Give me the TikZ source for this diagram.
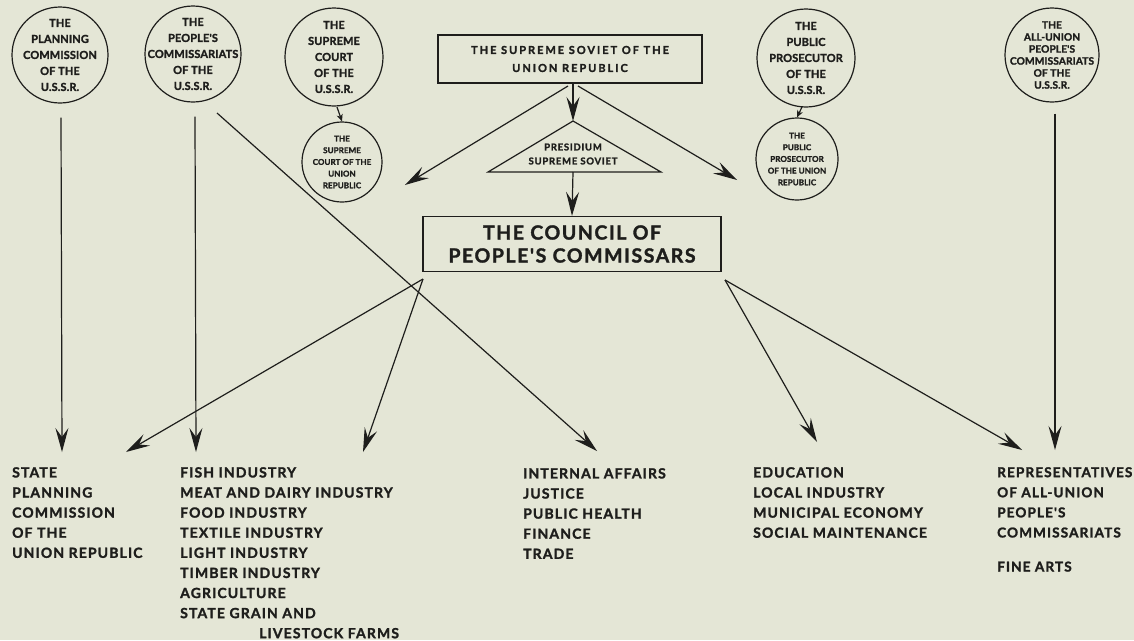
\documentclass[tikz,border=0pt]{standalone}
\usepackage{fontspec}
\newfontfamily\chartfont[LetterSpace=8,BoldFeatures={FakeBold=1.6}]{Lato}
\newfontfamily\ringfont[LetterSpace=1,BoldFeatures={FakeBold=1.6}]{Lato}
\newfontfamily\widefont[LetterSpace=18,BoldFeatures={FakeBold=1.6}]{Lato}
\usetikzlibrary{arrows.meta,positioning}
\definecolor{paper}{RGB}{228,230,214}
\definecolor{ink}{RGB}{30,30,28}
\tikzset{
  ring/.style={circle,draw=ink,line width=1.2pt,minimum size=#1,inner sep=0pt},
  ringtext/.style={align=center,text=ink,font=\ringfont\bfseries\fontsize{11}{16}\selectfont},
  smallringtext/.style={align=center,text=ink,font=\ringfont\bfseries\fontsize{8}{11.7}\selectfont},
  listtext/.style={align=left,text=ink,inner sep=0pt,anchor=north west,font=\chartfont\bfseries\fontsize{14}{20.1}\selectfont},
  big/.style={-{Stealth[length=24pt,width=13pt,inset=9pt]},draw=ink,line width=1.2pt},
  small/.style={-{Stealth[length=7pt,width=6pt,inset=2pt]},draw=ink,line width=1.2pt}
}
\begin{document}
\begin{tikzpicture}[x=1pt,y=-1pt]
\fill[paper] (0,0) rectangle (1134,640);
\useasboundingbox (0,0) rectangle (1134,640);

\node[ring=96pt] (PC) at (60,55) {};
\node[ringtext] at (PC) {THE\\PLANNING\\COMMISSION\\OF THE\\U.S.S.R.};
\node[ring=96pt] (NK) at (193,54) {};
\node[ringtext] at (NK) {THE\\PEOPLE'S\\COMMISSARIATS\\OF THE\\U.S.S.R.};
\node[ring=98pt] (SC) at (334,57) {};
\node[ringtext] at (SC) {THE\\SUPREME\\COURT\\OF THE\\U.S.S.R.};
\node[ring=80pt] (SCR) at (342,162) {};
\node[smallringtext] at (SCR) {THE\\SUPREME\\COURT OF THE\\UNION\\REPUBLIC};
\node[ring=98pt] (PP) at (806,58) {};
\node[ringtext] at (PP) {THE\\PUBLIC\\PROSECUTOR\\OF THE\\U.S.S.R.};
\node[ring=82pt] (PPR) at (797,159) {};
\node[smallringtext] at (PPR) {THE\\PUBLIC\\PROSECUTOR\\OF THE UNION\\REPUBLIC};
\node[ring=94pt] (AU) at (1052,55) {};
\node[smallringtext,font=\ringfont\bfseries\fontsize{10.2}{12}\selectfont] at (AU) {THE\\ALL-UNION\\PEOPLE'S\\COMMISSARIATS\\OF THE\\U.S.S.R.};

\node[draw=ink,line width=1.2pt,minimum width=264pt,minimum height=48pt,align=center,text=ink,
  font=\widefont\bfseries\fontsize{11}{18}\selectfont] (SS) at (570,59) {THE SUPREME SOVIET OF THE\\UNION REPUBLIC};
\coordinate (PSt) at (573,121);
\coordinate (PSl) at (488,172);
\coordinate (PSr) at (661,172);
\coordinate (PSb) at (573,172);
\draw[ink,line width=1.2pt] (PSl)--(PSt)--(PSr)--cycle;
\node[align=center,text=ink,font=\chartfont\bfseries\fontsize{9.5}{14}\selectfont] (PS) at (573,154) {PRESIDIUM\\SUPREME SOVIET};
\node[draw=ink,line width=1.2pt,minimum width=298pt,minimum height=55pt,align=center,text=ink,
  font=\chartfont\bfseries\fontsize{19.5}{23}\selectfont] (CPC) at (572,244) {THE COUNCIL OF\\PEOPLE'S COMMISSARS};

\node[listtext] (T1) at (12,467) {STATE\\PLANNING\\COMMISSION\\OF THE\\UNION REPUBLIC};
\node[listtext] (T2) at (180,467) {FISH INDUSTRY\\MEAT AND DAIRY INDUSTRY\\FOOD INDUSTRY\\TEXTILE INDUSTRY\\LIGHT INDUSTRY\\TIMBER INDUSTRY\\AGRICULTURE\\STATE GRAIN AND\\\hspace*{79pt}LIVESTOCK FARMS};
\node[listtext] (T3) at (523,468) {INTERNAL AFFAIRS\\JUSTICE\\PUBLIC HEALTH\\FINANCE\\TRADE};
\node[listtext] (T4) at (753,467) {EDUCATION\\LOCAL INDUSTRY\\MUNICIPAL ECONOMY\\SOCIAL MAINTENANCE};
\node[listtext,font=\chartfont\bfseries\fontsize{13.6}{20.1}\selectfont] (T5) at (997,467) {REPRESENTATIVES\\OF ALL-UNION\\PEOPLE'S\\COMMISSARIATS\\[14pt]FINE ARTS};

\coordinate (SSl) at (568,86);
\coordinate (SSr) at (578,86);
\coordinate (NKs) at (217,113);
\coordinate (Cl) at (423,279);
\coordinate (Cr) at (725,280);
\coordinate (A1) at (62,452);
\coordinate (A2) at (126,452);
\coordinate (A3) at (196,452);
\coordinate (A4) at (363,452);
\coordinate (A5) at (597,451);
\coordinate (A6) at (817,442);
\coordinate (A7) at (1022,450);
\coordinate (A8) at (1055,450);
\coordinate (Jl) at (405,185);
\coordinate (Jr) at (737,180);

\draw[big] (PC.south)++(1,14) -- (A1);
\draw[big] (NK.south)++(2,14) -- (A3);
\draw[big] (NKs) -- (A5);
\draw[big] (AU.south)++(3,11) -- (A8);
\draw[small] (SC)++(3,50) -- (SCR.north);
\draw[small] (PP)++(-4,49) -- (PPR.north);
\draw[big] (SS.south)++(3,0) -- (PSt);
\draw[big] (SSl) -- (Jl);
\draw[big] (SSr) -- (Jr);
\draw[big] (PSb) -- (CPC.north);
\draw[big] (Cl) -- (A2);
\draw[big] (Cl) -- (A4);
\draw[big] (Cr) -- (A6);
\draw[big] (Cr) -- (A7);
\end{tikzpicture}
\end{document}
